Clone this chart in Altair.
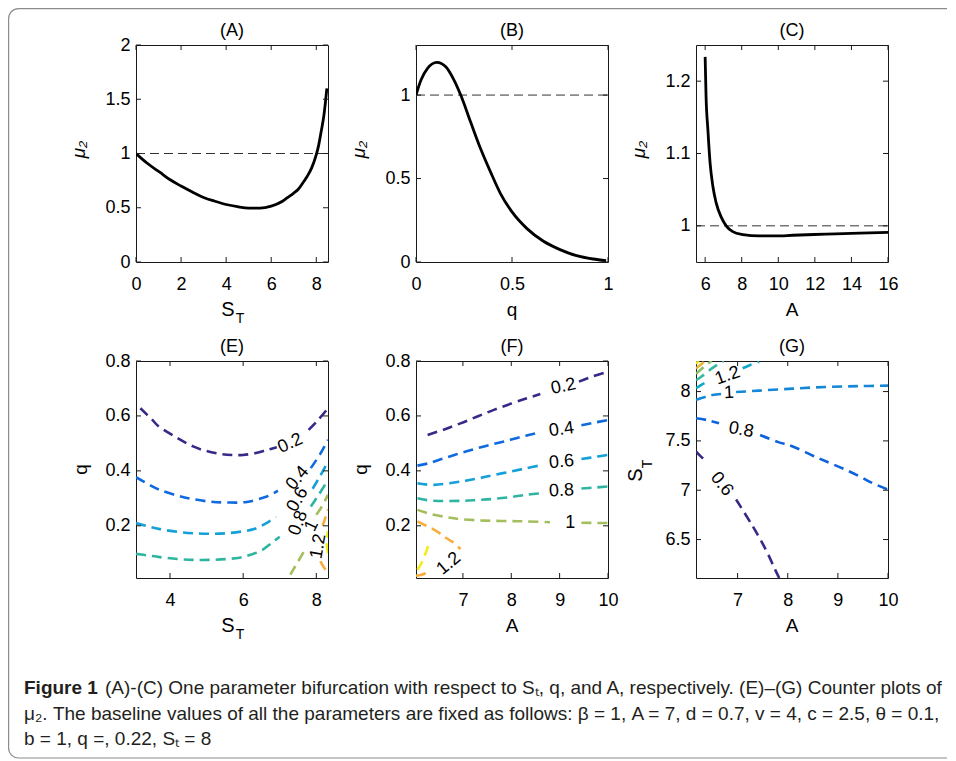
import altair as alt
import pandas as pd

FONT = "Liberation Sans, Arial, sans-serif"
CAP_FONT = "Liberation Sans Narrow, Liberation Sans, Arial, sans-serif"
W, H = 192, 217
TK = 5
TC = "#1a1a1a"

# ---------------- data ----------------
# (A) mu2 vs S_T
A_ST = [0, 0.5, 1.07, 1.5, 2, 2.5, 3, 3.5, 4, 4.5, 5, 5.5, 6, 6.5, 6.7, 7.0, 7.2, 7.44, 7.6, 7.8, 8.0, 8.1, 8.18, 8.25, 8.33, 8.4, 8.47]
A_MU = [1.0, 0.91, 0.825, 0.76, 0.70, 0.645, 0.595, 0.56, 0.53, 0.51, 0.497, 0.497, 0.515, 0.56, 0.59, 0.635, 0.67, 0.74, 0.79, 0.87, 0.99, 1.07, 1.16, 1.24, 1.34, 1.46, 1.60]
# (B) mu2 vs q
B_Q = [0, 0.026, 0.06, 0.109, 0.155, 0.198, 0.233, 0.284, 0.336, 0.388, 0.44, 0.50, 0.578, 0.664, 0.75, 0.836, 0.922, 0.99]
B_MU = [1.0, 1.09, 1.16, 1.196, 1.17, 1.09, 1.0, 0.84, 0.68, 0.54, 0.41, 0.30, 0.20, 0.124, 0.074, 0.038, 0.018, 0.008]
# (C) mu2 vs A
C_A = [6.0, 6.05, 6.15, 6.27, 6.42, 6.6, 6.88, 7.15, 7.51, 8.06, 8.97, 9.89, 10.8, 12.6, 14.45, 16]
C_MU = [1.2336, 1.179, 1.133, 1.087, 1.055, 1.032, 1.012, 1.0, 0.992, 0.988, 0.986, 0.986, 0.987, 0.9885, 0.990, 0.991]
REF_LEVEL = [1, 1]

# (E) contours of mu2 over (S_T, q): (level, x list, y list) per drawn segment
E_SEGMENTS = [
    ("0.2", [3.19, 3.5, 3.72, 4.2, 4.63, 5.0, 5.36, 5.7, 6.0, 6.35, 6.65, 6.92],
            [0.628, 0.588, 0.559, 0.52, 0.489, 0.472, 0.462, 0.458, 0.458, 0.465, 0.476, 0.486]),
    ("0.2", [7.79, 8.05, 8.32], [0.549, 0.585, 0.628]),
    ("0.4", [3.07, 3.4, 3.72, 4.2, 4.63, 5.1, 5.55, 6.1, 6.65, 6.95],
            [0.377, 0.352, 0.331, 0.31, 0.297, 0.288, 0.285, 0.287, 0.307, 0.328]),
    ("0.4", [7.85, 8.1, 8.32], [0.41, 0.46, 0.513]),
    ("0.6", [3.07, 3.4, 3.72, 4.2, 4.63, 5.1, 5.55, 6.0, 6.3, 6.6, 6.9],
            [0.21, 0.198, 0.188, 0.178, 0.173, 0.171, 0.173, 0.18, 0.188, 0.207, 0.232]),
    ("0.6", [7.9, 8.1, 8.32], [0.335, 0.38, 0.434]),
    ("0.8", [3.07, 3.4, 3.72, 4.2, 4.63, 5.1, 5.55, 5.9, 6.2, 6.5, 6.8, 7.0],
            [0.098, 0.092, 0.086, 0.079, 0.076, 0.076, 0.079, 0.084, 0.095, 0.11, 0.14, 0.16]),
    ("0.8", [7.85, 8.05, 8.32], [0.27, 0.31, 0.367]),
    ("1", [7.29, 7.5, 7.7], [0.022, 0.07, 0.115]),
    ("1", [8.0, 8.15, 8.32], [0.24, 0.27, 0.313]),
    ("1.2", [8.25, 8.12, 8.09], [0.04, 0.07, 0.095]),
    ("1.2", [8.17, 8.25, 8.32], [0.2, 0.23, 0.26]),
    ("1.4", [8.32, 8.28, 8.32], [0.1, 0.14, 0.18]),
]
E_LABELS = ["0.2", "0.4", "0.6", "0.8", "1", "1.2"]
E_LABEL_X = [7.29, 7.49, 7.49, 7.51, 7.88, 8.06]
E_LABEL_Y = [0.5, 0.373, 0.295, 0.21, 0.2, 0.125]

# (F) contours of mu2 over (A, q)
F_SEGMENTS = [
    ("0.2", [6.27, 6.6, 6.95, 7.3, 7.64, 8.0, 8.32, 8.6], [0.531, 0.55, 0.573, 0.598, 0.622, 0.645, 0.664, 0.68]),
    ("0.2", [9.4, 9.7, 10], [0.725, 0.745, 0.761]),
    ("0.4", [6.06, 6.3, 6.61, 6.95, 7.29, 7.64, 7.98, 8.3, 8.6], [0.419, 0.428, 0.446, 0.465, 0.482, 0.498, 0.513, 0.528, 0.54]),
    ("0.4", [9.45, 9.7, 10], [0.566, 0.575, 0.585]),
    ("0.6", [6.06, 6.4, 6.95, 7.3, 7.64, 8.0, 8.32, 8.6], [0.355, 0.349, 0.361, 0.372, 0.385, 0.398, 0.41, 0.42]),
    ("0.6", [9.45, 9.7, 10], [0.443, 0.45, 0.458]),
    ("0.8", [6.06, 6.4, 6.95, 7.3, 7.64, 8.0, 8.32, 8.6], [0.30, 0.291, 0.291, 0.294, 0.298, 0.305, 0.313, 0.318]),
    ("0.8", [9.45, 9.7, 10], [0.336, 0.339, 0.343]),
    ("1", [6.06, 6.2, 6.4, 6.7, 6.95, 7.3, 7.64, 8.0, 8.32, 8.8], [0.258, 0.25, 0.24, 0.23, 0.224, 0.22, 0.218, 0.217, 0.216, 0.213]),
    ("1", [9.45, 10], [0.211, 0.21]),
    ("1.2", [6.06, 6.2, 6.34, 6.5, 6.61, 6.75, 6.82, 6.95], [0.216, 0.204, 0.192, 0.175, 0.161, 0.145, 0.137, 0.115]),
    ("1.2", [6.03, 6.15, 6.27], [0.018, 0.022, 0.03]),
    ("1.4", [6.06, 6.13, 6.2, 6.26, 6.3], [0.04, 0.06, 0.088, 0.115, 0.143]),
]
F_LABELS = ["0.2", "0.4", "0.6", "0.8", "1", "1.2"]
F_LABEL_X = [9.08, 9.04, 9.04, 9.04, 9.22, 6.71]
F_LABEL_Y = [0.707, 0.55, 0.432, 0.327, 0.212, 0.062]

# (G) contours of mu2 over (A, S_T)
G_SEGMENTS = [
    ("0.6", [6.17, 6.25, 6.34], [7.394, 7.35, 7.31]),
    ("0.6", [6.97, 7.3, 7.56, 7.73, 7.83], [6.906, 6.636, 6.40, 6.215, 6.11]),
    ("0.8", [6.17, 6.4, 6.63], [7.73, 7.71, 7.68]),
    ("0.8", [7.45, 7.8, 8.1, 8.5, 8.76, 9.1, 9.43, 9.7, 10], [7.56, 7.49, 7.444, 7.35, 7.293, 7.22, 7.141, 7.07, 7.007]),
    ("1", [6.17, 6.35, 6.5, 6.67], [7.916, 7.945, 7.965, 7.976]),
    ("1", [6.97, 7.43, 8.1, 8.76, 9.4, 10], [7.995, 8.01, 8.03, 8.047, 8.055, 8.06]),
    ("1.2", [6.17, 6.3, 6.42], [8.034, 8.075, 8.11]),
    ("1.2", [7.1, 7.25, 7.43], [8.236, 8.27, 8.303]),
    ("1.4", [6.17, 6.3, 6.5, 6.72], [8.115, 8.16, 8.24, 8.31]),
    ("1.6", [6.17, 6.28, 6.4, 6.48], [8.18, 8.23, 8.28, 8.31]),
    ("1.8", [6.17, 6.27, 6.35], [8.235, 8.275, 8.31]),
    ("2", [6.17, 6.22], [8.28, 8.31]),
]
G_LABELS = ["1.2", "1", "0.8", "0.6"]
G_LABEL_X = [6.8, 6.83, 7.07, 6.68]
G_LABEL_Y = [8.16, 7.985, 7.61, 7.06]

PANEL_TITLES = ["(A)", "(B)", "(C)", "(E)", "(F)", "(G)"]
CAPTION_BOLD = "Figure 1"
CAPTION_LINES = [
    "(A)-(C) One parameter bifurcation with respect to Sₜ, q, and A, respectively. (E)–(G) Counter plots of",
    "μ₂. The baseline values of all the parameters are fixed as follows: β = 1, A = 7, d = 0.7, v = 4, c = 2.5, θ = 0.1,",
    "b = 1, q =, 0.22, Sₜ = 8",
]

# ---------------- styles ----------------
E_ANGLES = [335, 310, 300, 290, 295, 280]
F_ANGLES = [348, 352, 355, 357, 0, 320]
G_ANGLES = [340, 357, 10, 52]
LEVELS7 = ["0.2", "0.4", "0.6", "0.8", "1", "1.2", "1.4"]
PAL7 = ["#352a87", "#0f6ae0", "#14a0d8", "#2eb5a0", "#a3be5c", "#f7ad3a", "#f4ec18"]
LEVELS8 = ["0.6", "0.8", "1", "1.2", "1.4", "1.6", "1.8", "2"]
PAL8 = ["#352a87", "#0f62dd", "#1487d8", "#10a9c8", "#35b89e", "#8fbf6a", "#e8b63c", "#f8e40e"]
DASH = [10, 6]


def sc(dom):
    return alt.Scale(domain=dom, nice=False, zero=False)


def axes(xt, yt):
    xa = alt.Axis(orient="bottom", values=xt, format="~r", title=None, ticks=False,
                  labelPadding=13, domain=False, grid=False, labelFlush=False, labelOverlap=False)
    ya = alt.Axis(orient="left", values=yt, format="~r", title=None, ticks=False,
                  labelPadding=6, domain=False, grid=False, labelFlush=False, labelOverlap=False)
    return xa, ya


def tick_layers(xdom, ydom, xt, yt):
    xa, ya = axes(xt, yt)
    xdf = pd.DataFrame({"x": xt})
    ydf = pd.DataFrame({"y": yt})
    xr = alt.Chart(xdf).mark_rule(color=TC, strokeWidth=1)
    yr = alt.Chart(ydf).mark_rule(color=TC, strokeWidth=1)
    xe = alt.X("x:Q", scale=sc(xdom), axis=xa)
    ye = alt.Y("y:Q", scale=sc(ydom), axis=ya)
    return [
        xr.encode(x=xe, y=alt.value(H), y2=alt.value(H - TK)),
        xr.encode(x=xe, y=alt.value(0), y2=alt.value(TK)),
        yr.encode(y=ye, x=alt.value(0), x2=alt.value(TK)),
        yr.encode(y=ye, x=alt.value(W - TK), x2=alt.value(W)),
    ]


def txt(s, x, y, size=18, angle=0, style="normal", weight="normal", align="center",
        baseline="alphabetic", font=FONT, color="#000"):
    return alt.Chart(alt.Data(values=[{}])).mark_text(
        text=s, fontSize=size, angle=angle, fontStyle=style, fontWeight=weight, align=align,
        baseline=baseline, font=font, color=color
    ).encode(x=alt.value(x), y=alt.value(y))


def curve_panel(xs, ys, xdom, ydom, xt, yt, title, extra):
    df = pd.DataFrame({"x": xs, "y": ys, "i": range(len(xs))})
    xa, ya = axes(xt, yt)
    ref = pd.DataFrame({"x": [xdom[0], xdom[1]], "y": REF_LEVEL})
    ref_line = alt.Chart(ref).mark_line(color="#333", strokeWidth=1, strokeDash=[9, 5]).encode(
        x=alt.X("x:Q", scale=sc(xdom), axis=xa), y=alt.Y("y:Q", scale=sc(ydom), axis=ya))
    curve = alt.Chart(df).mark_line(color="#000", strokeWidth=2.8, interpolate="monotone", clip=True).encode(
        x=alt.X("x:Q", scale=sc(xdom), axis=xa), y=alt.Y("y:Q", scale=sc(ydom), axis=ya), order="i:Q")
    layers = [ref_line, curve] + tick_layers(xdom, ydom, xt, yt) + extra + [txt(title, W / 2, -9)]
    return alt.layer(*layers).properties(width=W, height=H)


def contour_panel(segments, labels, lx, ly, angles, levels, pal, xdom, ydom, xt, yt, title, extra):
    rows = []
    for si, (lev, xs, ys) in enumerate(segments):
        for i, (a, b) in enumerate(zip(xs, ys)):
            rows.append({"lev": lev, "seg": si, "i": i, "x": a, "y": b})
    df = pd.DataFrame(rows)
    xa, ya = axes(xt, yt)
    lines = alt.Chart(df).mark_line(strokeWidth=2.6, strokeDash=DASH, interpolate="cardinal", clip=True).encode(
        x=alt.X("x:Q", scale=sc(xdom), axis=xa),
        y=alt.Y("y:Q", scale=sc(ydom), axis=ya),
        color=alt.Color("lev:N", scale=alt.Scale(domain=levels, range=pal), legend=None),
        detail="seg:N",
        order="i:Q",
    )
    ldf = pd.DataFrame({"t": labels, "x": lx, "y": ly, "a": angles})
    labs = alt.Chart(ldf).mark_text(fontSize=18, font=FONT, color="#000", baseline="middle", align="center").encode(
        x=alt.X("x:Q", scale=sc(xdom), axis=xa), y=alt.Y("y:Q", scale=sc(ydom), axis=ya),
        text="t:N", angle=alt.Angle("a:Q", scale=None))
    layers = [lines, labs] + tick_layers(xdom, ydom, xt, yt) + extra + [txt(title, W / 2, -9)]
    return alt.layer(*layers).properties(width=W, height=H)


def s_t_x():
    return [txt("S", 92, H + 54, size=20), txt("T", 104, H + 61, size=14)]


def mu_y():
    return [txt("μ₂", -57, H / 2 - 4, size=19, angle=270, baseline="middle", style="italic")]


pA = curve_panel(A_ST, A_MU, [0, 8.52], [0, 2], [0, 2, 4, 6, 8], [0, 0.5, 1, 1.5, 2], PANEL_TITLES[0],
                 s_t_x() + mu_y())
pB = curve_panel(B_Q, B_MU, [0, 1], [0, 1.3], [0, 0.5, 1], [0, 0.5, 1], PANEL_TITLES[1],
                 [txt("q", W / 2, H + 54, size=19)] + mu_y())
pC = curve_panel(C_A, C_MU, [5.5, 16], [0.95, 1.25], [6, 8, 10, 12, 14, 16], [1, 1.1, 1.2], PANEL_TITLES[2],
                 [txt("A", W / 2, H + 54, size=19)] + mu_y())

pE = contour_panel(E_SEGMENTS, E_LABELS, E_LABEL_X, E_LABEL_Y, E_ANGLES, LEVELS7, PAL7,
                   [3.07, 8.32], [0.01, 0.8], [4, 6, 8], [0.2, 0.4, 0.6, 0.8], PANEL_TITLES[3],
                   s_t_x() + [txt("q", -55, H / 2, size=19, angle=270, baseline="middle")])
pF = contour_panel(F_SEGMENTS, F_LABELS, F_LABEL_X, F_LABEL_Y, F_ANGLES, LEVELS7, PAL7,
                   [6.03, 10], [0.01, 0.8], [7, 8, 9, 10], [0.2, 0.4, 0.6, 0.8], PANEL_TITLES[4],
                   [txt("A", W / 2, H + 54, size=19), txt("q", -55, H / 2, size=19, angle=270, baseline="middle")])
pG = contour_panel(G_SEGMENTS, G_LABELS, G_LABEL_X, G_LABEL_Y, G_ANGLES, LEVELS8, PAL8,
                   [6.17, 10], [6.11, 8.31], [7, 8, 9, 10], [6.5, 7, 7.5, 8], PANEL_TITLES[5],
                   [txt("A", W / 2, H + 54, size=19),
                    txt("S", -60, 114, size=20, angle=270, baseline="middle"),
                    txt("T", -48, 103, size=14, angle=270, baseline="middle")])

# caption cell: origin sits one row below (E), i.e. at page (136, 677)
CAP = 19
BX1, BX2, BY1, BY2, BR = -127.4, 811, -668.4, 81, 10
BW, BH = BX2 - BX1, BY2 - BY1
# dash pattern draws the top, bottom and left sides only (the right side runs off the page)
BORDER_DASH = [BW - BR, BH, 4000, 1]
pCap = alt.layer(
    alt.Chart(alt.Data(values=[{}])).mark_rect(
        fillOpacity=0, stroke="#8c8c8c", strokeWidth=1.2, cornerRadiusTopLeft=BR, cornerRadiusBottomLeft=BR,
        strokeDash=BORDER_DASH
    ).encode(x=alt.value(BX1), x2=alt.value(BX2), y=alt.value(BY1), y2=alt.value(BY2)),
    txt(CAPTION_BOLD, -112, 17, size=CAP, weight="bold", align="left", font=CAP_FONT, color="#231f20"),
    txt(CAPTION_LINES[0], -31, 17, size=CAP, align="left", font=CAP_FONT, color="#231f20"),
    txt(CAPTION_LINES[1], -112, 43, size=CAP, align="left", font=CAP_FONT, color="#231f20"),
    txt(CAPTION_LINES[2], -112, 68, size=CAP, align="left", font=CAP_FONT, color="#231f20"),
).properties(width=W, height=10, view=alt.ViewBackground(strokeOpacity=0))

chart = alt.concat(pA, pB, pC, pE, pF, pG, pCap, columns=3, spacing={"row": 99, "column": 88},
                   bounds="flush").resolve_scale(
    color="independent"
).properties(
    padding=0
).configure(font=FONT).configure_view(stroke=TC, strokeWidth=1).configure_axis(
    labelFont=FONT, labelFontSize=18, labelColor="#000"
)

chart.save("out.html", embed_options={"renderer": "svg", "actions": False})
